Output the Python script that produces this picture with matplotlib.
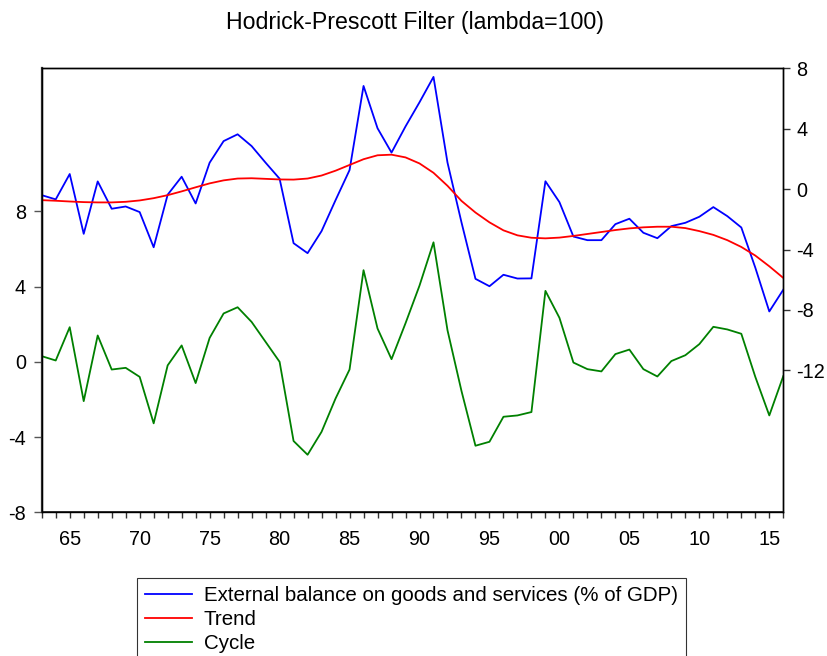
import matplotlib
matplotlib.use("Agg")
import matplotlib.pyplot as plt
from matplotlib.ticker import FixedLocator, MultipleLocator

plt.rcParams['font.family'] = ['Liberation Sans', 'DejaVu Sans']
plt.rcParams['axes.unicode_minus'] = False

years = list(range(1963, 2017))

external_balance = [
    -0.40, -0.68, 1.00, -2.96, 0.51, -1.30, -1.15, -1.52, -3.85, -0.37,
    0.82, -0.95, 1.75, 3.18, 3.63, 2.85, 1.75, 0.69, -3.58, -4.24,
    -2.78, -0.73, 1.26, 6.83, 4.03, 2.42, 4.15, 5.75, 7.43, 1.76,
    -2.20, -5.94, -6.43, -5.67, -5.92, -5.91, 0.52, -0.86, -3.14, -3.38,
    -3.38, -2.32, -1.96, -2.89, -3.25, -2.45, -2.23, -1.83, -1.19, -1.79,
    -2.54, -5.20, -8.10, -6.66,
]

trend = [
    -0.73, -0.77, -0.82, -0.86, -0.88, -0.88, -0.84, -0.75, -0.60, -0.40,
    -0.15, 0.12, 0.38, 0.58, 0.70, 0.72, 0.68, 0.64, 0.63, 0.70,
    0.90, 1.22, 1.60, 1.98, 2.24, 2.28, 2.10, 1.70, 1.08, 0.22,
    -0.78, -1.55, -2.20, -2.73, -3.06, -3.22, -3.26, -3.21, -3.10, -2.97,
    -2.84, -2.71, -2.60, -2.53, -2.49, -2.49, -2.58, -2.78, -3.03, -3.38,
    -3.83, -4.40, -5.11, -5.88,
]

cycle = [
    0.30, 0.07, 1.84, -2.09, 1.40, -0.41, -0.32, -0.80, -3.27, -0.19,
    0.87, -1.13, 1.27, 2.57, 2.90, 2.12, 1.06, 0.00, -4.21, -4.94,
    -3.72, -1.95, -0.41, 4.87, 1.77, 0.14, 2.05, 4.05, 6.35, 1.68,
    -1.55, -4.46, -4.25, -2.92, -2.85, -2.67, 3.77, 2.34, -0.04, -0.39,
    -0.51, 0.41, 0.65, -0.39, -0.78, 0.04, 0.35, 0.94, 1.86, 1.72,
    1.49, -0.80, -2.85, -0.76,
]

title = "Hodrick-Prescott Filter (lambda=100)"
series_labels = ["External balance on goods and services (% of GDP)", "Trend", "Cycle"]
left_ticks = [-8, -4, 0, 4, 8]
right_ticks = [-12, -8, -4, 0, 4, 8]
xtick_years = [1965, 1970, 1975, 1980, 1985, 1990, 1995, 2000, 2005, 2010, 2015]

fig = plt.figure(figsize=(8.28, 6.56), dpi=100)
ax = fig.add_axes([0.0504, 0.219, 0.8956, 0.6769])
ax2 = ax.twinx()

lw = 1.3
l3, = ax.plot(years, cycle, color='#008000', lw=lw, label=series_labels[2])
l1, = ax2.plot(years, external_balance, color='#0000ff', lw=lw, label=series_labels[0])
l2, = ax2.plot(years, trend, color='#ff0000', lw=lw, label=series_labels[1])

ax.set_xlim(1963, 2016)
ax.set_ylim(-8, 15.6)
ax2.set_ylim(-21.4, 8)

ax.yaxis.set_major_locator(FixedLocator(left_ticks))
ax2.yaxis.set_major_locator(FixedLocator(right_ticks))
ax.xaxis.set_major_locator(FixedLocator(xtick_years))
ax.xaxis.set_minor_locator(MultipleLocator(1))
ax.set_xticklabels([f"{y % 100:02d}" for y in xtick_years])

fs = 14.3
ax.tick_params(axis='x', which='both', direction='out', length=4.3, width=1, pad=8.5, labelsize=fs, color='#333333')
ax.tick_params(axis='y', direction='out', length=5.8, width=1, pad=5.5, labelsize=fs, color='#555555')
ax2.tick_params(axis='y', direction='out', length=5, width=1, pad=4.2, labelsize=fs, color='#333333')

for a in (ax, ax2):
    for s in a.spines.values():
        s.set_linewidth(1.0)
        s.set_color('black')
ax.spines['left'].set_linewidth(1.6)
ax.spines['left'].set_color('#333333')
ax.spines['bottom'].set_linewidth(1.4)
ax.spines['bottom'].set_color('#333333')

fig.text(0.5015, 0.965, title, ha='center', va='center', fontsize=16.7)

leg = fig.legend([l1, l2, l3], series_labels, loc='upper left',
                 bbox_to_anchor=(0.1655, 0.1195), bbox_transform=fig.transFigure,
                 fontsize=14.8, frameon=True, fancybox=False, handlelength=2.25,
                 handletextpad=0.6, labelspacing=0.24, borderpad=0.4, borderaxespad=0)
leg.get_frame().set_edgecolor('black')
leg.get_frame().set_linewidth(0.8)

fig.savefig("out.png", dpi=100)
